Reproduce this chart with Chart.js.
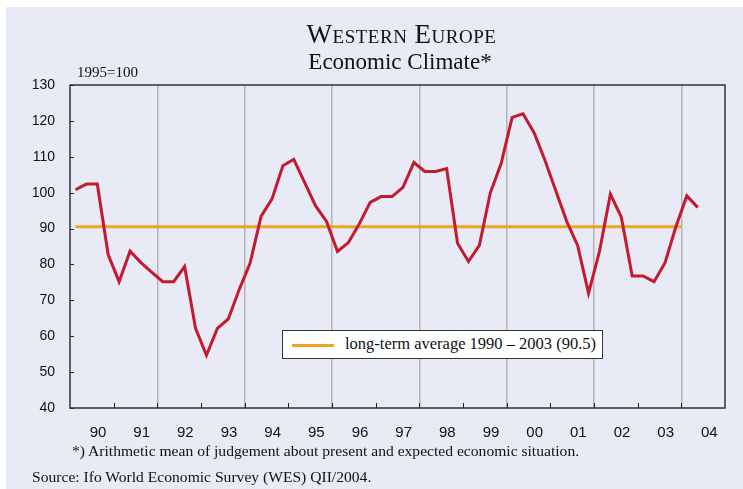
<!DOCTYPE html>
<html>
<head>
<meta charset="utf-8">
<script src="https://cdn.jsdelivr.net/npm/chart.js@4.4.1/dist/chart.umd.min.js"></script>
<style>
  body { margin: 0; background: #fff; }
  #wrap { position: relative; width: 743px; height: 489px; overflow: hidden; }
  #bg { position: absolute; left: 6px; top: 7px; right: 0; bottom: 0; background: #e8eaf5; }
  #chart { position: absolute; left: 0; top: 0; }
  .txt { position: absolute; font-family: 'Liberation Serif', 'Times New Roman', serif; color: #111; white-space: nowrap; }
  #title { left: 0; width: 803px; top: 19px; text-align: center; font-size: 27px; letter-spacing: 0.5px; font-variant: small-caps; }
  #subtitle { left: 0; width: 800px; top: 49px; text-align: center; font-size: 23px; }
  #unit { left: 77px; top: 64px; font-size: 15px; }
  #note { left: 72px; top: 442px; font-size: 15.6px; }
  #source { left: 32px; top: 468px; font-size: 15.6px; }
  #legend { position: absolute; left: 282px; top: 330px; width: 319px; height: 27px; background: #fff; border: 1px solid #333; }
  #legend .swatch { position: absolute; left: 9px; top: 13px; width: 42px; height: 3px; background: #f0a422; }
  #legend .label { left: 62px; top: 3px; font-size: 16.5px; }
</style>
</head>
<body>
<div id="wrap">
  <div id="bg"></div>
  <canvas id="chart" width="743" height="489"></canvas>
  <div class="txt" id="title">Western Europe</div>
  <div class="txt" id="subtitle">Economic Climate*</div>
  <div class="txt" id="unit">1995=100</div>
  <div id="legend"><div class="swatch"></div><div class="txt label">long-term average 1990 – 2003 (90.5)</div></div>
  <div class="txt" id="note">*) Arithmetic mean of judgement about present and expected economic situation.</div>
  <div class="txt" id="source">Source: Ifo World Economic Survey (WES) QII/2004.</div>
</div>

<script>
  // year labels, one per 4 quarters (1990 .. 2004)
  var years = ['90', '91', '92', '93', '94', '95', '96', '97', '98', '99', '00', '01', '02', '03', '04'];

  // Economic climate, quarterly, 1990Q1 .. 2004Q2
  var climate = [
    100.8, 102.4, 102.4, 82.7,
    75.2, 83.7, 80.5, 77.8,
    75.2, 75.2, 79.4, 62.2,
    54.7, 62.2, 64.8, 73.0,
    80.4, 93.4, 98.2, 107.5,
    109.3, 102.8, 96.3, 92.0,
    83.6, 86.1, 91.3, 97.3,
    98.9, 98.9, 101.5, 108.4,
    105.9, 105.9, 106.7, 85.9,
    80.8, 85.3, 99.9, 108.2,
    121.0, 122.0, 116.8, 109.1,
    100.5, 92.0, 85.3, 72.0,
    83.6, 99.6, 93.2, 76.8,
    76.8, 75.2, 80.4, 90.5,
    99.1, 95.9
  ];

  // long-term average 1990-2003, drawn from first quarter to end of 2003
  var longTermAvg = 90.5;
  var avgFrom = 0.5;
  var avgTo = 56;

  var yTicks = [40, 50, 60, 70, 80, 90, 100, 110, 120, 130];

  var climatePoints = climate.map(function(v, i) {
    return { x: i + 0.5, y: v };
  });

  // frame + inward tick marks
  var framePlugin = {
    id: 'frame',
    afterDraw: function(chart) {
      var ctx = chart.ctx;
      var a = chart.chartArea;
      var xs = chart.scales.x;
      var ys = chart.scales.y;
      ctx.save();
      ctx.strokeStyle = '#222';
      ctx.lineWidth = 1;
      for (var i = 1; i < years.length; i++) {
        var px = Math.round(xs.getPixelForValue(i * 4)) + 0.5;
        ctx.beginPath();
        ctx.moveTo(px, a.bottom);
        ctx.lineTo(px, a.bottom - 5);
        ctx.stroke();
      }
      yTicks.forEach(function(t) {
        var py = Math.round(ys.getPixelForValue(t)) + 0.5;
        ctx.beginPath();
        ctx.moveTo(a.left, py);
        ctx.lineTo(a.left + 4, py);
        ctx.stroke();
      });
      ctx.lineWidth = 1.5;
      ctx.strokeStyle = '#333';
      ctx.strokeRect(a.left, a.top, a.right - a.left, a.bottom - a.top);
      ctx.restore();
    }
  };

  new Chart(document.getElementById('chart'), {
    type: 'line',
    data: {
      datasets: [
        {
          label: 'Economic Climate',
          data: climatePoints,
          borderColor: '#c41a30',
          borderWidth: 3,
          pointRadius: 0,
          tension: 0,
          order: 1
        },
        {
          label: 'long-term average 1990 – 2003 (90.5)',
          data: [{ x: avgFrom, y: longTermAvg }, { x: avgTo, y: longTermAvg }],
          borderColor: '#f0a422',
          borderWidth: 3,
          pointRadius: 0,
          order: 2
        }
      ]
    },
    options: {
      responsive: false,
      animation: false,
      devicePixelRatio: 1,
      layout: { padding: { top: 85, right: 18, bottom: 41, left: 0 } },
      plugins: {
        legend: { display: false },
        tooltip: { enabled: false }
      },
      scales: {
        x: {
          type: 'linear',
          min: 0,
          max: 60,
          afterFit: function(scale) { scale.height = 40; },
          border: { display: false },
          grid: {
            drawTicks: false,
            lineWidth: 1.5,
            color: function(c) {
              var v = c.tick && c.tick.value;
              return (v > 0 && v < 60 && v % 8 === 0) ? '#b4b4b4' : 'rgba(0,0,0,0)';
            }
          },
          ticks: {
            stepSize: 4,
            autoSkip: false,
            maxRotation: 0,
            padding: 16,
            labelOffset: 28,
            color: '#111',
            font: { family: "'Liberation Sans', Arial, sans-serif", size: 15 },
            callback: function(v) { return years[v / 4] || ''; }
          }
        },
        y: {
          min: 40,
          max: 130,
          afterFit: function(scale) { scale.width = 70; },
          border: { display: false },
          grid: { display: false, drawTicks: false },
          ticks: {
            stepSize: 10,
            padding: 15,
            color: '#111',
            font: { family: "'Liberation Sans', Arial, sans-serif", size: 14 }
          }
        }
      }
    },
    plugins: [framePlugin]
  });
</script>
</body>
</html>
